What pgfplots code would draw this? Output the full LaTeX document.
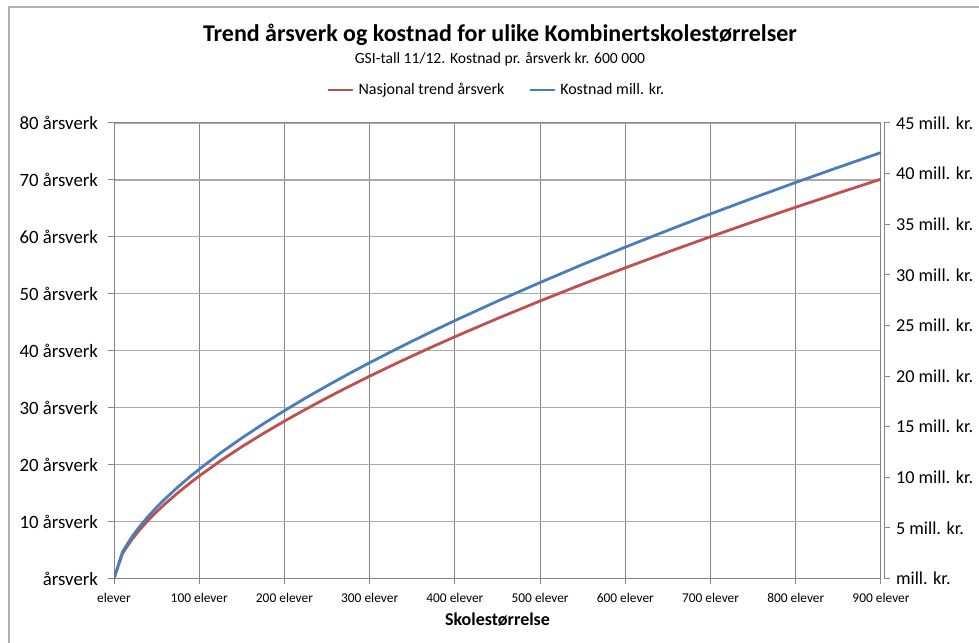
\documentclass[border=0pt]{standalone}
\usepackage{fontspec}
\setmainfont{Carlito}
\usepackage{pgfplots}
\pgfplotsset{compat=1.18}
\definecolor{xlred}{RGB}{192,80,77}
\definecolor{xlblue}{RGB}{74,126,187}
\definecolor{gridgray}{RGB}{134,134,134}
\definecolor{hgrid}{RGB}{170,170,170}

\pgfplotstableread{
x    aarsverk
0    0
10   4.40
20   6.65
30   8.54
40   10.21
50   11.72
60   13.12
75   15.06
90   16.86
100  18.00
125  20.67
150  23.14
175  25.45
200  27.64
225  29.73
250  31.74
275  33.67
300  35.53
325  37.34
350  39.09
375  40.79
400  42.46
450  45.67
500  48.74
550  51.71
600  54.57
650  57.34
700  60.03
750  62.65
800  65.21
850  67.70
900  70.14
}\aarsverk

\pgfplotstableread{
x    mill
0    0
10   2.64
20   3.99
30   5.12
40   6.13
50   7.03
60   7.87
75   9.04
90   10.12
100  10.80
125  12.40
150  13.88
175  15.27
200  16.58
225  17.84
250  19.04
275  20.20
300  21.32
325  22.40
350  23.45
375  24.48
400  25.48
450  27.40
500  29.24
550  31.03
600  32.74
650  34.40
700  36.02
750  37.59
800  39.13
850  40.62
900  42.08
}\kostnad

\begin{document}
\begin{tikzpicture}
\useasboundingbox (0,0) rectangle (489.5pt,321pt);
\draw[black!30, line width=0.6pt] (4.5pt,-5pt) rectangle (530pt,317.5pt);
\node[font=\bfseries\fontsize{12}{14}\selectfont] at (250pt,303.5pt)
  {Trend årsverk og kostnad for ulike Kombinertskolestørrelser};
\node[font=\fontsize{7.8}{9}\selectfont] at (250pt,291.5pt)
  {GSI-tall 11/12. Kostnad pr. årsverk kr. 600 000};

% venstre akse: årsverk
\begin{axis}[
  at={(57pt,31.75pt)}, anchor=south west,
  scale only axis, width=383.5pt, height=227.75pt,
  xmin=0, xmax=900, ymin=0, ymax=80,
  xtick={0,100,...,900},
  xticklabels={elever,100 elever,200 elever,300 elever,400 elever,500 elever,600 elever,700 elever,800 elever,900 elever},
  ytick={0,10,...,80},
  yticklabels={årsverk,10 årsverk,20 årsverk,30 årsverk,40 årsverk,50 årsverk,60 årsverk,70 årsverk,80 årsverk},
  xtick pos=left, ytick pos=left,
  tick align=outside, major tick length=3pt,
  tick style={gridgray, line width=0.5pt},
  axis line style={gridgray, line width=0.5pt},
  grid=major,
  major x grid style={gridgray, line width=0.5pt},
  major y grid style={hgrid, line width=0.6pt},
  x tick label style={font=\fontsize{6.7}{8}\selectfont, yshift=-1pt},
  y tick label style={font=\fontsize{9.4}{11}\selectfont, xshift=-1.5pt},
  xlabel={Skolestørrelse},
  xlabel style={font=\bfseries\fontsize{9}{11}\selectfont,
    at={(axis description cs:0.5,-0.0911)}, anchor=center},
  legend columns=2,
  legend style={at={(axis description cs:0.5,1.0725)}, anchor=center,
    draw=none, fill=none, font=\fontsize{8}{9}\selectfont,
    /tikz/every odd column/.append style={inner xsep=1pt},
    /tikz/every even column/.append style={column sep=10pt}},
  legend image code/.code={\draw[#1] (0pt,0pt) -- (12.5pt,0pt);},
]
\addplot[xlred, line width=1.4pt] table[x=x, y=aarsverk] {\aarsverk};
\addlegendentry{Nasjonal trend årsverk}
\addlegendimage{xlblue, line width=1.4pt}
\addlegendentry{Kostnad mill. kr.}
\end{axis}

% høyre akse: mill. kr.
\begin{axis}[
  at={(57pt,31.75pt)}, anchor=south west,
  scale only axis, width=385pt, height=227.75pt,
  xmin=0, xmax=903.52, ymin=0, ymax=45,
  axis x line=none, axis y line*=right,
  ytick={0,5,...,45},
  yticklabels={mill. kr.,5 mill. kr.,10 mill. kr.,15 mill. kr.,20 mill. kr.,25 mill. kr.,30 mill. kr.,35 mill. kr.,40 mill. kr.,45 mill. kr.},
  tick align=outside, major tick length=3pt,
  tick style={gridgray, line width=0.5pt},
  axis line style={gridgray, line width=0.5pt, -},
  y tick label style={font=\fontsize{9.1}{11}\selectfont, xshift=-0.5pt},
]
\addplot[xlblue, line width=1.4pt] table[x=x, y=mill] {\kostnad};
\end{axis}
\end{tikzpicture}
\end{document}
